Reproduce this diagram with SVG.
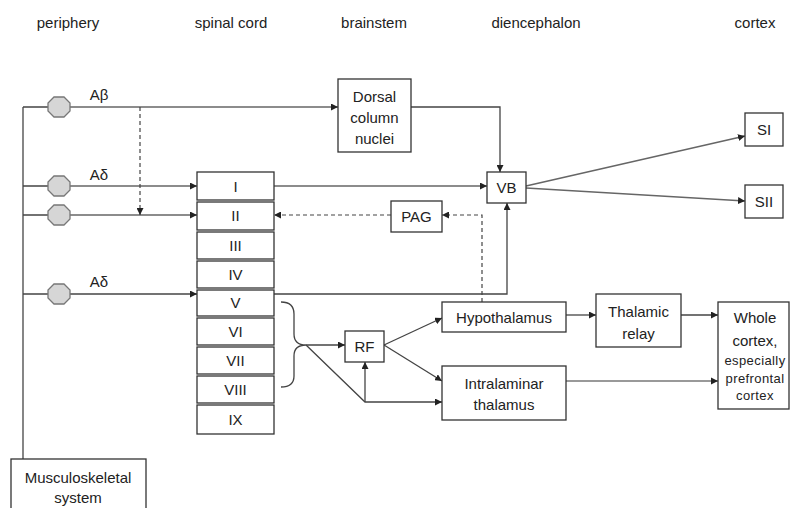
<svg xmlns="http://www.w3.org/2000/svg" width="791" height="508" viewBox="0 0 791 508">
<style>
text{font-family:"Liberation Sans",Arial,sans-serif;font-size:15px;fill:#222;text-anchor:middle}
.box{fill:#fff;stroke:#333;stroke-width:1.3}
.oct{fill:#d6d6d6;stroke:#777;stroke-width:1.3}
.ln{fill:none;stroke:#444;stroke-width:1.3}
.lg{fill:none;stroke:#666;stroke-width:1.6}
.gr{fill:none;stroke:#999;stroke-width:2}
.ds{fill:none;stroke:#444;stroke-width:1.2;stroke-dasharray:4 3}
.sm{font-size:13px;letter-spacing:0.4px}
</style>
<defs>
<marker id="ah" viewBox="0 0 10 10" refX="10" refY="5" markerWidth="7" markerHeight="7" markerUnits="userSpaceOnUse" orient="auto">
<path d="M0,0 L10,5 L0,10 z" fill="#222"/>
</marker>
</defs>

<g id="headers">
<text x="68" y="28">periphery</text>
<text x="231" y="28">spinal cord</text>
<text x="374" y="28">brainstem</text>
<text x="536" y="28">diencephalon</text>
<text x="755" y="28">cortex</text>
</g>

<g id="connectors">
<path class="ln" d="M23,107 V459"/>
<path class="ln" d="M23,107 H48 M23,186 H48 M23,215 H48 M23,294 H48"/>
<path class="lg" d="M70,107 H338" marker-end="url(#ah)"/>
<path class="lg" d="M70,186 H197" marker-end="url(#ah)"/>
<path class="lg" d="M70,215 H197" marker-end="url(#ah)"/>
<path class="ln" d="M70,294 H197" marker-end="url(#ah)"/>
<path class="ds" d="M140,107 V215" marker-end="url(#ah)"/>
<path class="ln" d="M411,107 H500 V172" marker-end="url(#ah)"/>
<path class="lg" d="M274,186 H487" marker-end="url(#ah)"/>
<path class="ds" d="M391,215 H274" marker-end="url(#ah)"/>
<path class="ds" d="M482,302 V215 H442" marker-end="url(#ah)"/>
<path class="ln" d="M274,294 H507 V203" marker-end="url(#ah)"/>
<path class="lg" d="M526,186 L745,136" marker-end="url(#ah)"/>
<path class="lg" d="M526,188 L745,201" marker-end="url(#ah)"/>
<path class="ln" d="M281,302 Q294,302 294,314 V334 Q294,345 306,345 Q294,345 294,356 V376 Q294,387 281,387"/>
<path class="ln" d="M306,345 H345" marker-end="url(#ah)"/>
<path class="ln" d="M306,345 L365,402 H442" marker-end="url(#ah)"/>
<path class="ln" d="M365,402 V362" marker-end="url(#ah)"/>
<path class="ln" d="M384,345 L442,318" marker-end="url(#ah)"/>
<path class="ln" d="M384,345 L442,381" marker-end="url(#ah)"/>
<path class="ln" d="M566,315 H596" marker-end="url(#ah)"/>
<path class="ln" d="M681,315 H718" marker-end="url(#ah)"/>
<path class="gr" d="M566,381 H718"/>
<path d="M711,377.5 L718,381 L711,384.5 z" fill="#222"/>
</g>

<g id="fibers">
<g id="oct-ab"><polygon class="oct" points="54,97 64,97 70,103 70,111 64,117 54,117 48,111 48,103"/><text x="99" y="100">Aβ</text></g>
<g id="oct-ad1"><polygon class="oct" points="54,176 64,176 70,182 70,190 64,196 54,196 48,190 48,182"/><text x="99" y="180">Aδ</text></g>
<g id="oct-2"><polygon class="oct" points="54,205 64,205 70,211 70,219 64,225 54,225 48,219 48,211"/></g>
<g id="oct-ad2"><polygon class="oct" points="54,284 64,284 70,290 70,298 64,304 54,304 48,298 48,290"/><text x="99" y="287">Aδ</text></g>
</g>

<g id="laminae">
<g id="lam-I"><rect class="box" x="197" y="172" width="77" height="28"/><text x="235.5" y="192">I</text></g>
<g id="lam-II"><rect class="box" x="197" y="202" width="77" height="28"/><text x="235.5" y="221">II</text></g>
<g id="lam-III"><rect class="box" x="197" y="232" width="77" height="27"/><text x="235.5" y="251">III</text></g>
<g id="lam-IV"><rect class="box" x="197" y="261" width="77" height="27"/><text x="235.5" y="280">IV</text></g>
<g id="lam-V"><rect class="box" x="197" y="290" width="77" height="26"/><text x="235.5" y="308">V</text></g>
<g id="lam-VI"><rect class="box" x="197" y="318" width="77" height="27"/><text x="235.5" y="337">VI</text></g>
<g id="lam-VII"><rect class="box" x="197" y="347" width="77" height="27"/><text x="235.5" y="366">VII</text></g>
<g id="lam-VIII"><rect class="box" x="197" y="376" width="77" height="27"/><text x="235.5" y="395">VIII</text></g>
<g id="lam-IX"><rect class="box" x="197" y="405" width="77" height="29"/><text x="235.5" y="425">IX</text></g>
</g>

<g id="dcn"><rect class="box" x="338" y="79" width="73" height="73"/><text x="374.5" y="102">Dorsal</text><text x="374.5" y="123">column</text><text x="374.5" y="144">nuclei</text></g>
<g id="vb"><rect class="box" x="487" y="172" width="39" height="31"/><text x="506.5" y="193">VB</text></g>
<g id="pag"><rect class="box" x="391" y="201" width="51" height="31"/><text x="416.5" y="222">PAG</text></g>
<g id="si"><rect class="box" x="745" y="113" width="38" height="33"/><text x="764" y="135">SI</text></g>
<g id="sii"><rect class="box" x="745" y="185" width="38" height="33"/><text x="764" y="207">SII</text></g>
<g id="rf"><rect class="box" x="345" y="331" width="39" height="31"/><text x="364.5" y="352">RF</text></g>
<g id="hypothalamus"><rect class="box" x="442" y="302" width="124" height="30"/><text x="504" y="323">Hypothalamus</text></g>
<g id="intralaminar"><rect class="box" x="442" y="366" width="124" height="54"/><text x="504" y="389">Intralaminar</text><text x="504" y="410">thalamus</text></g>
<g id="thalamic-relay"><rect class="box" x="596" y="294" width="85" height="53"/><text x="638.5" y="317">Thalamic</text><text x="638.5" y="339">relay</text></g>
<g id="whole-cortex"><rect class="box" x="718" y="302" width="71" height="107"/><text x="755" y="323">Whole</text><text x="755" y="346">cortex,</text><text class="sm" x="755" y="365">especially</text><text class="sm" x="755" y="383">prefrontal</text><text class="sm" x="755" y="400">cortex</text></g>
<g id="musculoskeletal"><rect class="box" x="11" y="459" width="135" height="60"/><text x="78" y="483">Musculoskeletal</text><text x="78" y="503">system</text></g>
</svg>
